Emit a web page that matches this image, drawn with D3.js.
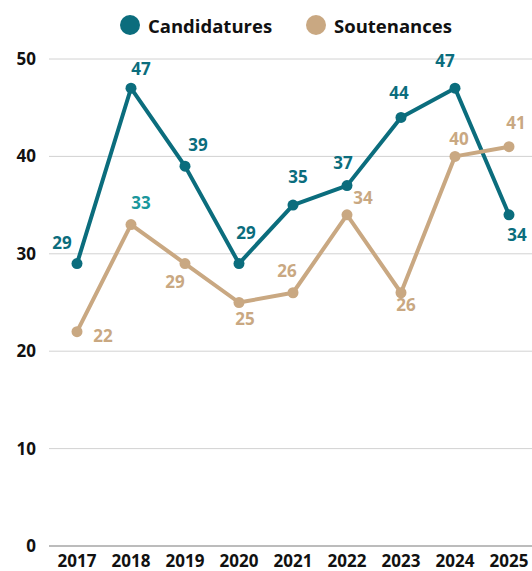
<!DOCTYPE html>
<html>
<head>
<meta charset="utf-8">
<script src="https://cdn.jsdelivr.net/npm/d3@7"></script>
<style>
  html, body { margin: 0; padding: 0; background: #fff; }
  svg { display: block; font-family: "Open Sans", sans-serif; }
</style>
</head>
<body>
<svg id="chart" width="532" height="571"></svg>
<script>
const years = ["2017","2018","2019","2020","2021","2022","2023","2024","2025"];
const candidatures = [29, 47, 39, 29, 35, 37, 44, 47, 34];
const soutenances = [22, 33, 29, 25, 26, 34, 26, 40, 41];
const yTicks = [0, 10, 20, 30, 40, 50];
const seriesNames = ["Candidatures", "Soutenances"];

// label offsets (styling, not data)
const candOffsets = [[-15,-21],[10,-20],[13,-22],[7,-31],[5,-29],[-4,-23],[-2,-25],[-10,-28],[8,20]];
const soutOffsets = [[26,4],[10,-22],[-10,18],[6,16],[-6,-22],[16,-17],[5,12],[4,-18],[7,-24]];

const teal = "#0b6d7d";
const tan = "#c9a882";

const svg = d3.select("#chart");
const x = d3.scaleBand().domain(years).range([50, 536]).paddingInner(0).paddingOuter(0);
const xc = d => x(d) + x.bandwidth() / 2;
const y = d3.scaleLinear().domain([0, 50]).range([546, 59]);

// gridlines
svg.append("g").selectAll("line").data(yTicks.filter(t => t > 0)).join("line")
  .attr("x1", 49).attr("x2", 532)
  .attr("y1", d => y(d)).attr("y2", d => y(d))
  .attr("stroke", "#d2d2d2").attr("stroke-width", 1);
svg.append("line").attr("x1", 49).attr("x2", 532).attr("y1", y(0)).attr("y2", y(0))
  .attr("stroke", "#7a7a7a").attr("stroke-width", 1.2);

// y axis labels
const yAxis = d3.axisLeft(y).tickValues(yTicks).tickSize(0).tickPadding(0);
const yg = svg.append("g").attr("transform", "translate(36,0)").call(yAxis);
yg.select(".domain").remove();
yg.selectAll("text").attr("font-size", 17).attr("font-weight", 700).attr("fill", "#111")
  .attr("font-family", "'Open Sans', sans-serif");

// x axis labels
const xAxis = d3.axisBottom(x).tickSize(0).tickPadding(0);
const xg = svg.append("g").attr("transform", "translate(0,555)").call(xAxis);
xg.select(".domain").remove();
xg.selectAll("text").attr("font-size", 17).attr("font-weight", 700).attr("fill", "#111")
  .attr("font-family", "'Open Sans', sans-serif");

const line = d3.line().x((d, i) => xc(years[i])).y(d => y(d));

function drawSeries(vals, color, offsets, labelColors) {
  svg.append("path").datum(vals).attr("d", line)
    .attr("fill", "none").attr("stroke", color).attr("stroke-width", 4)
    .attr("stroke-linejoin", "round");
  svg.append("g").selectAll("circle").data(vals).join("circle")
    .attr("cx", (d, i) => xc(years[i])).attr("cy", d => y(d)).attr("r", 5.5)
    .attr("fill", color);
  svg.append("g").selectAll("text").data(vals).join("text")
    .attr("x", (d, i) => xc(years[i]) + offsets[i][0])
    .attr("y", (d, i) => y(d) + offsets[i][1])
    .attr("text-anchor", "middle").attr("dominant-baseline", "central")
    .attr("font-size", 17).attr("font-weight", 700)
    .attr("fill", (d, i) => labelColors ? labelColors[i] : color)
    .text(d => d);
}

drawSeries(candidatures, teal, candOffsets, null);
drawSeries(soutenances, tan, soutOffsets, soutenances.map((d, i) => i === 1 ? "#1a979c" : tan));

// legend
const legend = svg.append("g");
const legendItems = [{name: seriesNames[0], color: teal, x: 130}, {name: seriesNames[1], color: tan, x: 316}];
legendItems.forEach(it => {
  legend.append("circle").attr("cx", it.x).attr("cy", 25).attr("r", 10).attr("fill", it.color);
  legend.append("text").attr("x", it.x + 18).attr("y", 25).attr("dominant-baseline", "central")
    .attr("font-size", 18.5).attr("font-weight", 700).attr("fill", "#111").text(it.name);
});
</script>
</body>
</html>
